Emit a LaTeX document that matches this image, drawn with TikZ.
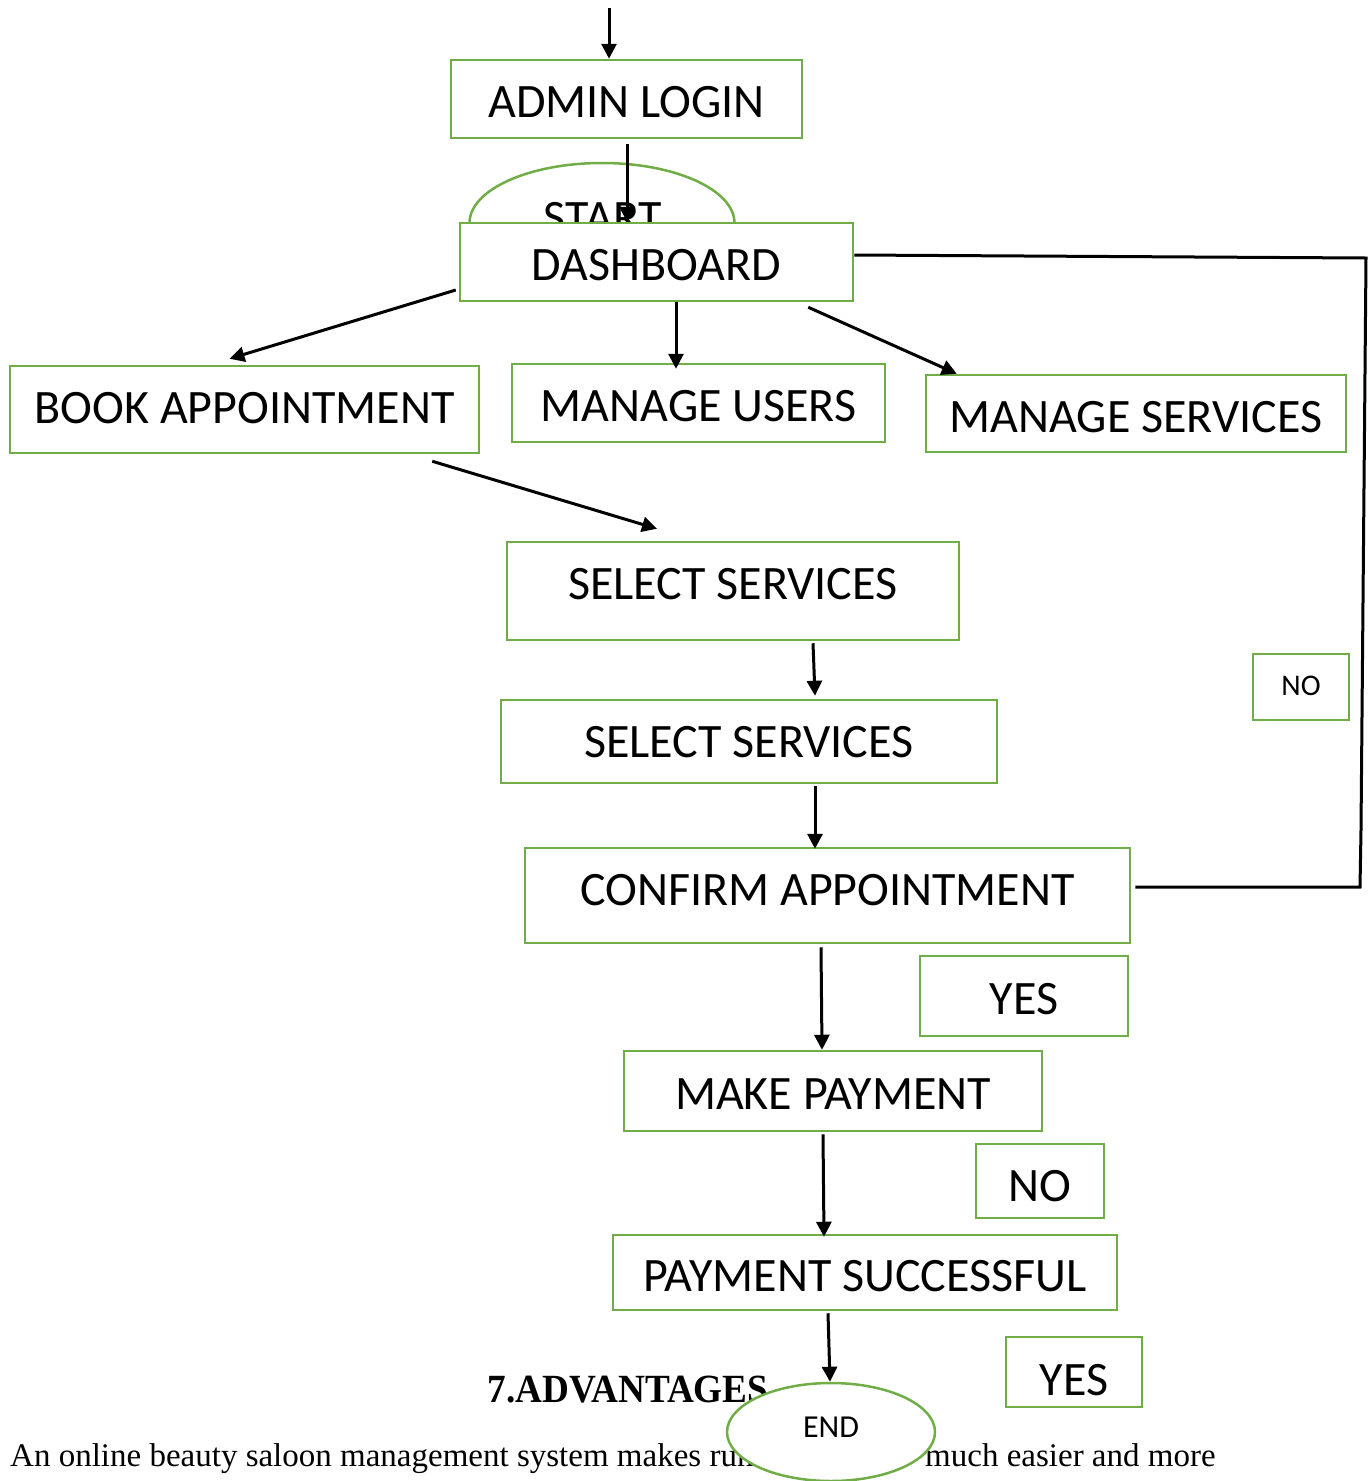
\documentclass[tikz,border=0pt]{standalone}
\usepackage{fontspec}
\setmainfont{Carlito}
\newfontfamily\bodyfont{Liberation Serif}
\usetikzlibrary{arrows.meta,shapes.geometric,calc}
\definecolor{boxgreen}{HTML}{70AD47}
\tikzset{
  box/.style={draw=boxgreen, line width=2.5pt, fill=white, rectangle, inner sep=0pt, text=black, font=\fontsize{48}{56}\selectfont, text height=37pt, text depth=0pt},
  oval/.style={draw=boxgreen, line width=2.5pt, fill=white, ellipse, inner sep=0pt, text=black},
  arr/.style={line width=3pt, -{Triangle[length=15pt,width=15pt]}},
  loopline/.style={line width=3pt},
}
\begin{document}
\begin{tikzpicture}[x=1pt,y=-1pt]
\useasboundingbox (0,0) rectangle (1369,1481);
% body text
\node[anchor=center, xscale=0.93, font=\bodyfont\bfseries\fontsize{40}{46}\selectfont] (adv) at (628,1390) {7.ADVANTAGES};
\node[anchor=base west, inner sep=0pt, font=\bodyfont\fontsize{33}{40}\selectfont] (bodyl) at (10,1466) {An online beauty saloon management system makes running};
\node[anchor=base west, inner sep=0pt, font=\bodyfont\fontsize{33}{40}\selectfont] (bodyr) at (925,1466) {much easier and more};
% nodes
\node[box, minimum width=351pt, minimum height=78pt] (admin) at (626.5,99) {ADMIN LOGIN};
\node[oval, minimum width=265pt, minimum height=120pt] (start) at (602,223) {};
\node[font=\fontsize{48}{56}\selectfont, inner sep=0pt] (starttxt) at (603,218) {START};
\node[box, minimum width=393pt, minimum height=78pt] (dash) at (656.5,262) {DASHBOARD};
\node[box, minimum width=469pt, minimum height=87pt, text height=31pt, text depth=3pt] (book) at (244.5,409.5) {BOOK APPOINTMENT};
\node[box, minimum width=373pt, minimum height=78pt] (mu) at (698.5,403) {MANAGE USERS};
\node[box, minimum width=420pt, minimum height=77pt] (ms) at (1136,413.5) {MANAGE SERVICES};
\node[box, minimum width=452pt, minimum height=98pt, text height=31pt, text depth=14pt] (sel1) at (733,591) {SELECT SERVICES};
\node[box, minimum width=496pt, minimum height=83pt, text height=32pt, text depth=0pt] (sel2) at (749,741.5) {SELECT SERVICES};
\node[box, minimum width=605pt, minimum height=95pt, text height=31pt, text depth=11pt] (conf) at (827.5,895.5) {CONFIRM APPOINTMENT};
\node[box, minimum width=208pt, minimum height=80pt] (yes1) at (1024,996) {YES};
\node[box, minimum width=418pt, minimum height=80pt] (mp) at (833,1091) {MAKE PAYMENT};
\node[box, minimum width=128pt, minimum height=74pt, text height=41pt] (no2) at (1040,1181) {NO};
\node[box, minimum width=504pt, minimum height=75pt] (ps) at (865,1272.5) {PAYMENT SUCCESSFUL};
\node[box, minimum width=136pt, minimum height=70pt, text height=47pt] (yes2) at (1074,1372) {YES};
\node[box, minimum width=96pt, minimum height=66pt, font=\fontsize{30}{36}\selectfont, text height=20pt, text depth=3pt] (no1) at (1301,687) {NO};
\node[oval, minimum width=208pt, minimum height=98pt, font=\fontsize{32}{38}\selectfont, text height=21pt, text depth=10pt] (endn) at (831,1432) {END};
% connectors
\coordinate (top) at (609,8);
\draw[arr] (top) -- (top |- admin.north);
\coordinate (a1) at ([shift={(0.5,5)}]admin.south);
\draw[arr] (a1) -- (a1 |- dash.north);
\draw[arr] ([shift={(-3,28)}]dash.west) -- ([shift={(-15,-6)}]book.north);
\coordinate (d2) at ([shift={(19.5,0)}]dash.south);
\draw[arr] (d2) -- ([shift={(0,6)}]d2 |- mu.north);
\draw[arr] ([shift={(-46,5)}]dash.south east) -- ([shift={(32,0)}]ms.north west);
\draw[arr] ([shift={(-48,7)}]book.south east) -- ([shift={(-76,-12)}]sel1.north);
\draw[arr] ([shift={(80,2)}]sel1.south) -- ([shift={(66,-3)}]sel2.north);
\draw[arr] ([shift={(66,2)}]sel2.south) -- ([shift={(-12.5,2)}]conf.north);
\draw[arr] ([shift={(-6.5,3)}]conf.south) -- ([shift={(-11,0)}]mp.north);
\draw[arr] ([shift={(-10,2)}]mp.south) -- ([shift={(-41,3)}]ps.north);
\draw[arr] ([shift={(-37,2)}]ps.south) -- ([shift={(-1,0)}]endn.north);
\coordinate (l1) at (1366,258);
\coordinate (l2) at (1361,830);
\coordinate (l3) at (1360,887);
\draw[loopline] ([shift={(0,-7)}]dash.east) -- (l1) -- (l2) -- (l3) -- ([shift={(4,-8.5)}]conf.east);
\end{tikzpicture}
\end{document}
